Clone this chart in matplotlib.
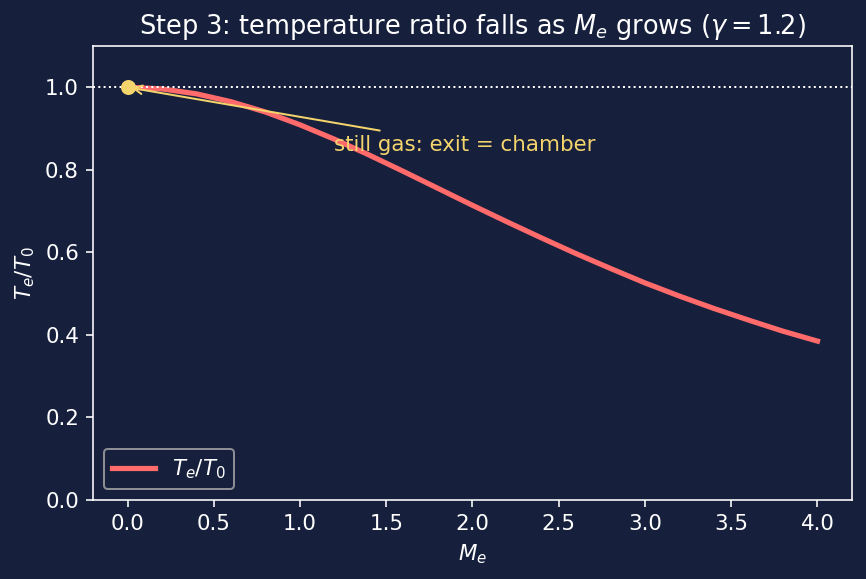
import matplotlib.pyplot as plt

# exit Mach number vs temperature ratio
mach = [0.0, 0.2, 0.4, 0.6, 0.8, 1.0, 1.2, 1.4, 1.6, 1.8, 2.0,
        2.2, 2.4, 2.6, 2.8, 3.0, 3.2, 3.4, 3.6, 3.8, 4.0]
temp_ratio = [1.000, 0.996, 0.984, 0.965, 0.940, 0.909, 0.874, 0.836, 0.796, 0.755, 0.714,
              0.674, 0.635, 0.597, 0.561, 0.526, 0.494, 0.464, 0.436, 0.409, 0.385]

bg = '#16203d'
fg = 'white'
accent = '#f4d46c'
plt.rcParams['font.size'] = 10.7
plt.rcParams['axes.facecolor'] = bg
plt.rcParams['figure.facecolor'] = bg
plt.rcParams['text.color'] = fg
plt.rcParams['axes.labelcolor'] = fg
plt.rcParams['xtick.color'] = fg
plt.rcParams['ytick.color'] = fg
plt.rcParams['axes.edgecolor'] = fg

fig, ax = plt.subplots(figsize=(866 / 144, 579 / 144), dpi=144)
ax.plot(mach, temp_ratio, color='#ff6b6b', lw=2.6, label=r'$T_e/T_0$')
ax.axhline(1.0, color=fg, ls=':', lw=1)
ax.plot([0], [1.0], 'o', color=accent, ms=6.5)
ax.annotate('still gas: exit = chamber', xy=(0, 1.0), xytext=(1.2, 0.845),
            color=accent, arrowprops=dict(arrowstyle='->', color=accent, lw=1))
ax.set_ylim(0, 1.1)
ax.set_xlabel(r'$M_e$')
ax.set_ylabel(r'$T_e/T_0$')
ax.set_title(r'Step 3: temperature ratio falls as $M_e$ grows ($\gamma=1.2$)', fontsize=12.8)
ax.legend(loc='lower left', facecolor=bg, edgecolor='#aaaaaa')
fig.subplots_adjust(left=0.1074, right=0.9838, top=0.9206, bottom=0.1364)
plt.savefig('out.png', dpi=144)
